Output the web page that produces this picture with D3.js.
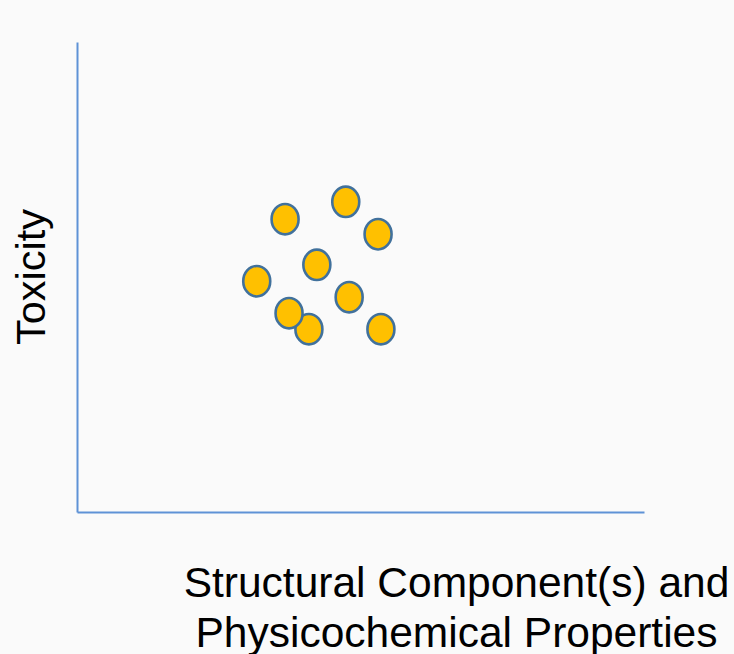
<!DOCTYPE html>
<html>
<head>
<meta charset="utf-8">
<script src="https://cdn.jsdelivr.net/npm/d3@7"></script>
<style>
  body { margin: 0; background: #fafafa; }
  svg { display: block; }
</style>
</head>
<body>
<div class="chart"></div>
<script>
// values (arbitrary 0-100 units, no ticks shown)
var pointX = [36.7, 47.4, 53.1, 42.3, 31.7, 48.0, 40.9, 37.4, 53.6];
var pointY = [62.3, 66.0, 59.1, 52.6, 49.1, 45.7, 38.9, 42.3, 38.9];
var yLabel = "Toxicity";
var xLabelLines = ["Structural Component(s) and", "Physicochemical Properties"];

var svgWidth = 734;
var svgHeight = 654;

var margin = { top: 42, right: 90, bottom: 142, left: 77 };
var width = svgWidth - margin.left - margin.right;
var height = svgHeight - margin.top - margin.bottom;

var svg = d3.select(".chart")
    .append("svg")
    .attr("width", svgWidth)
    .attr("height", svgHeight);

svg.append("rect")
    .attr("width", svgWidth)
    .attr("height", svgHeight)
    .attr("fill", "#fafafa");

var chartGroup = svg.append("g")
    .attr("transform", `translate(${margin.left}, ${margin.top})`);

var xScale = d3.scaleLinear().domain([0, 100]).range([0, width]);
var yScale = d3.scaleLinear().domain([0, 100]).range([height, 0]);

// axes without ticks, just the lines
var xAxis = d3.axisBottom(xScale).tickValues([]).tickSizeOuter(0);
var yAxis = d3.axisLeft(yScale).tickValues([]).tickSizeOuter(0);

chartGroup.append("g")
    .attr("transform", `translate(0, ${height})`)
    .call(xAxis)
    .select(".domain")
    .attr("stroke", "#5e92d6")
    .attr("stroke-width", 2);

chartGroup.append("g")
    .call(yAxis)
    .select(".domain")
    .attr("stroke", "#5e92d6")
    .attr("stroke-width", 2);

// points
var points = pointX.map(function (x, i) { return { x: x, y: pointY[i] }; });

chartGroup.selectAll("ellipse")
    .data(points)
    .enter()
    .append("ellipse")
    .attr("cx", d => xScale(d.x))
    .attr("cy", d => yScale(d.y))
    .attr("rx", 13.5)
    .attr("ry", 15.2)
    .attr("fill", "#ffc000")
    .attr("stroke", "#41719c")
    .attr("stroke-width", 2.6);

// axis labels
svg.append("text")
    .attr("transform", "translate(45, 277) rotate(-90)")
    .attr("text-anchor", "middle")
    .style("font-family", "Liberation Sans, Arial, sans-serif")
    .style("font-size", "41.5px")
    .attr("fill", "#000")
    .text(yLabel);

svg.append("text")
    .attr("text-anchor", "middle")
    .style("font-family", "Liberation Sans, Arial, sans-serif")
    .style("font-size", "42.5px")
    .attr("fill", "#000")
    .selectAll("tspan")
    .data(xLabelLines)
    .enter()
    .append("tspan")
    .attr("x", 456.5)
    .attr("y", (d, i) => 597 + i * 50)
    .text(d => d);
</script>
</body>
</html>
